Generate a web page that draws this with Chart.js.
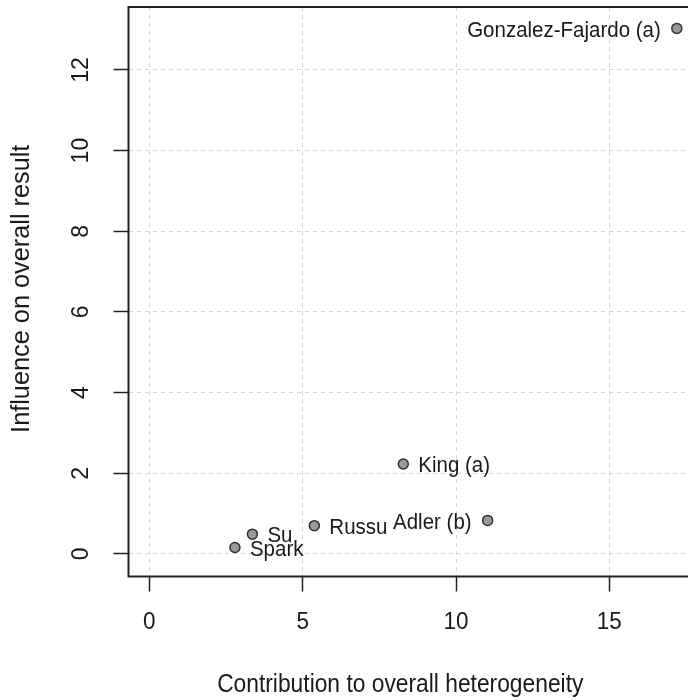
<!DOCTYPE html>
<html>
<head>
<meta charset="utf-8">
<script src="https://cdn.jsdelivr.net/npm/chart.js@4"></script>
<style>
  html, body { margin: 0; padding: 0; background: #fff; overflow: hidden; }
  #wrap { width: 710px; height: 700px; }
</style>
</head>
<body>
<div id="wrap"><canvas id="baujat"></canvas></div>
<script>
const studies = ["Gonzalez-Fajardo (a)", "King (a)", "Adler (b)", "Russu", "Su", "Spark"];
const heterogeneity = [17.2, 8.28, 11.03, 5.38, 3.36, 2.79];
const influence = [13.03, 2.23, 0.83, 0.7, 0.49, 0.16];
const labelSide = ["left", "right", "left", "right", "right", "right"];

const xTicks = [0, 5, 10, 15];
const yTicks = [0, 2, 4, 6, 8, 10, 12];
const xTitle = "Contribution to overall heterogeneity";
const yTitle = "Influence on overall result";

const FONT = '"Liberation Sans", Arial, sans-serif';
const INK = "#1a1a1a";
const STRETCH = 1.1; // the reference text is a bit taller than wide

// horizontal text, slightly stretched vertically
function hText(ctx, str, x, y) {
  ctx.save();
  ctx.translate(x, y);
  ctx.scale(1, STRETCH);
  ctx.fillText(str, 0, 0);
  ctx.restore();
}

// text turned 90deg, reading bottom to top
function vText(ctx, str, x, y) {
  ctx.save();
  ctx.translate(x, y);
  ctx.rotate(-Math.PI / 2);
  ctx.fillText(str, 0, 0);
  ctx.restore();
}

const textPlugin = {
  id: "rText",
  afterDraw(chart) {
    const ctx = chart.ctx;
    const area = chart.chartArea;
    const xs = chart.scales.x;
    const ys = chart.scales.y;

    // box
    ctx.save();
    ctx.strokeStyle = "#222";
    ctx.lineWidth = 2;
    ctx.strokeRect(area.left, area.top, area.right - area.left, area.bottom - area.top);

    ctx.fillStyle = INK;
    ctx.textAlign = "center";
    ctx.textBaseline = "middle";

    // tick labels
    ctx.font = "22.5px " + FONT;
    xTicks.forEach(v => hText(ctx, String(v), xs.getPixelForValue(v), 622));
    ctx.font = "23px " + FONT;
    yTicks.forEach(v => vText(ctx, String(v), 82, ys.getPixelForValue(v)));

    // titles
    ctx.font = "22.8px " + FONT;
    hText(ctx, xTitle, (area.left + area.right) / 2 - 13, 685);
    ctx.font = "25.3px " + FONT;
    vText(ctx, yTitle, 22, (area.top + area.bottom) / 2 - 3);

    // study labels
    ctx.font = "20.5px " + FONT;
    const meta = chart.getDatasetMeta(0);
    meta.data.forEach((pt, i) => {
      const left = labelSide[i] === "left";
      ctx.textAlign = left ? "right" : "left";
      hText(ctx, studies[i], pt.x + (left ? -16 : 15), pt.y + 2);
    });
    ctx.restore();
  }
};

function gridOpts() {
  return {
    color: "#d3d3d3",
    lineWidth: 1,
    drawTicks: true,
    tickLength: 15,
    tickColor: "#222",
    tickWidth: 1.5,
    tickBorderDash: []
  };
}

new Chart(document.getElementById("baujat"), {
  type: "scatter",
  data: {
    datasets: [{
      label: "studies",
      data: heterogeneity.map((x, i) => ({ x: x, y: influence[i] })),
      pointRadius: 5,
      pointBackgroundColor: "#9a9a9a",
      pointBorderColor: "#333",
      pointBorderWidth: 1.5
    }]
  },
  options: {
    responsive: true,
    maintainAspectRatio: false,
    animation: false,
    events: [],
    layout: { padding: { left: 0, top: 7, right: 12, bottom: 0 } },
    plugins: { legend: { display: false }, tooltip: { enabled: false } },
    scales: {
      x: {
        type: "linear",
        min: -0.68,
        max: 17.89,
        grid: gridOpts(),
        border: { display: false, dash: [4, 4] },
        ticks: { display: false },
        afterBuildTicks: s => { s.ticks = xTicks.map(v => ({ value: v })); },
        afterFit: s => { s.height = 123.5; }
      },
      y: {
        type: "linear",
        min: -0.56,
        max: 13.56,
        grid: gridOpts(),
        border: { display: false, dash: [4, 4] },
        ticks: { display: false },
        afterBuildTicks: s => { s.ticks = yTicks.map(v => ({ value: v })); },
        afterFit: s => { s.width = 128.5; }
      }
    }
  },
  plugins: [textPlugin]
});
</script>
</body>
</html>
